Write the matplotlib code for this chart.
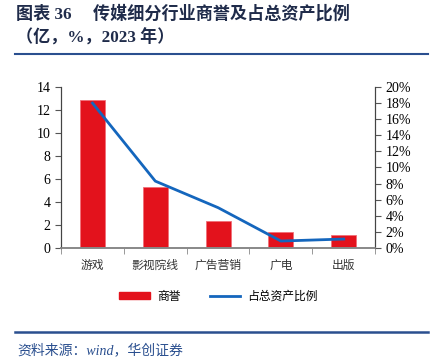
import numpy as np
import matplotlib.pyplot as plt
from matplotlib.lines import Line2D
from matplotlib.patches import Patch

categories = ['游戏', '影视院线', '广告营销', '广电', '出版']
goodwill = [12.9, 5.3, 2.3, 1.35, 1.15]
ratio = [18.0, 8.3, 5.0, 0.85, 1.1]

cjk = ['Noto Sans CJK SC', 'DejaVu Sans']
serif = ['Liberation Serif', 'Noto Sans CJK SC']
red = '#e3121c'
blue = '#1466bd'
navy = '#2a4f8f'

fig = plt.figure(figsize=(4.46, 3.64), dpi=100)
ax = fig.add_axes([0.137, 0.319, 0.704, 0.442])
x = np.arange(len(categories))
ax.bar(x, goodwill, width=0.4, color=red, edgecolor='#f07078', linewidth=0.6, zorder=2)
ax.set_xlim(-0.5, len(categories) - 0.5)
ax.set_ylim(0, 14)
ax.set_yticks(np.arange(0, 15, 2))
ax.set_xticks(x)
ax.set_xticklabels(categories, family=cjk, fontsize=8.5, color='#333333')
ax.set_xticks(np.arange(-0.5, len(categories), 1), minor=True)
ax.tick_params(axis='x', which='major', length=0, pad=8)
ax.tick_params(axis='x', which='minor', length=4, direction='out', color='#888888')
ax.tick_params(axis='y', length=4, direction='out', color='#555555', labelsize=10)
for lab in ax.get_yticklabels():
    lab.set_family(serif)

ax2 = ax.twinx()
ax2.plot(x, ratio, color=blue, linewidth=2, zorder=3)
ax2.set_ylim(0, 20)
ax2.set_yticks(np.arange(0, 21, 2))
ax2.set_yticklabels([f'{v}%' for v in range(0, 21, 2)])
ax2.tick_params(axis='y', length=4, direction='out', color='#555555', labelsize=10)
for lab in ax2.get_yticklabels():
    lab.set_family(serif)

for a in (ax, ax2):
    a.spines['top'].set_visible(False)
    a.spines['left'].set_color('#444444')
    a.spines['right'].set_color('#444444')
    a.spines['bottom'].set_color('#888888')
    a.spines['bottom'].set_linewidth(1.2)

handles = [Patch(facecolor=red, edgecolor=red), Line2D([0], [0], color=blue, linewidth=2)]
fig.legend(handles, ['商誉', '占总资产比例'], loc='center', bbox_to_anchor=(0.49, 0.186),
           ncol=2, frameon=False, prop={'family': cjk, 'size': 8.5},
           handlelength=2.6, handleheight=0.6, columnspacing=2.5, handletextpad=0.6)

fig.text(0.035, 0.962, '图表 36　 传媒细分行业商誉及占总资产比例', family=serif,
         fontsize=12.3, fontweight='bold', color='#1f2b4a', va='center')
fig.text(0.035, 0.895, '（亿，%，2023 年）', family=serif,
         fontsize=12.3, fontweight='bold', color='#1f2b4a', va='center')
fig.add_artist(Line2D([0.034, 0.96], [0.853, 0.853], color=navy, linewidth=1.5))
fig.add_artist(Line2D([0.034, 0.96], [0.087, 0.087], color=navy, linewidth=1.8))
fig.text(0.04, 0.038, '资料来源：wind，华创证券', family=serif, fontsize=10,
         style='italic', color=navy, va='center')

fig.savefig('out.png', dpi=100)
